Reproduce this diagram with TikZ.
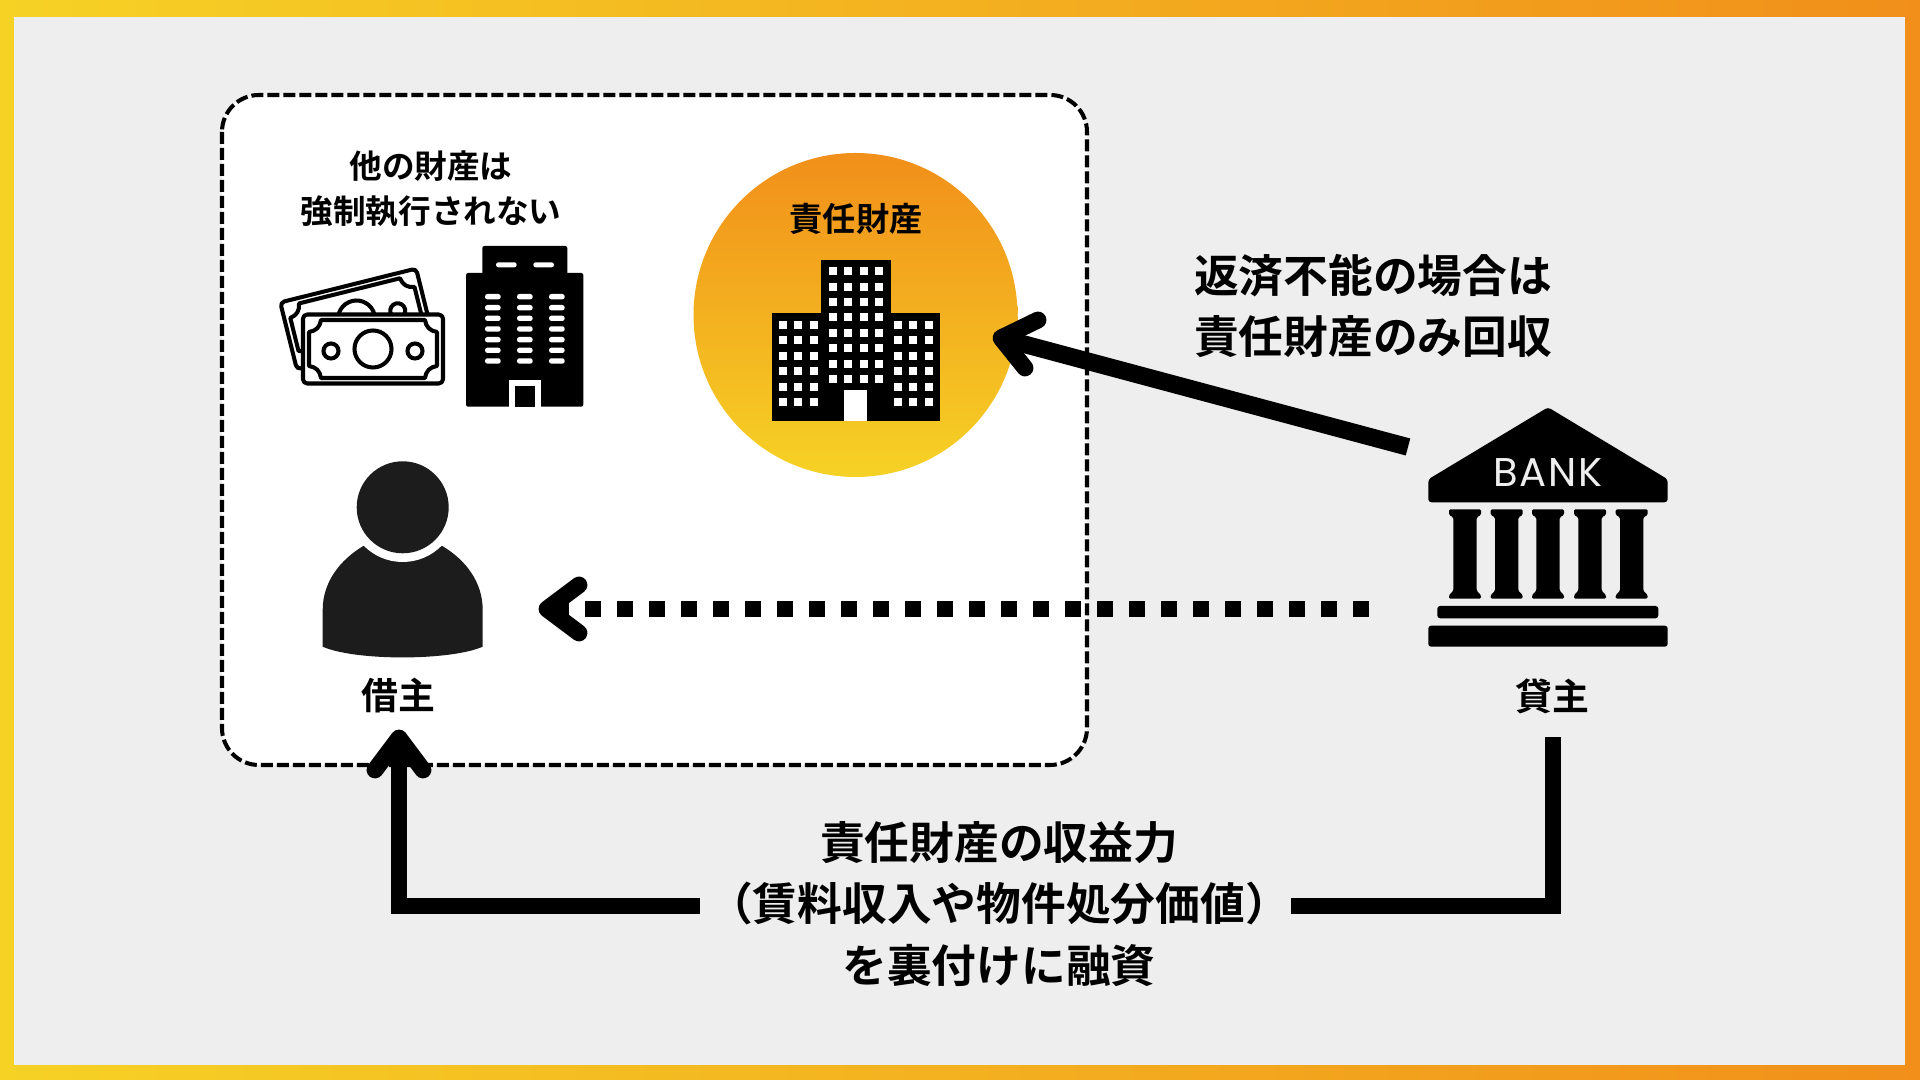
\documentclass[tikz,border=0pt]{standalone}
\usepackage{fontspec}
\usetikzlibrary{shadings,calc}
\setmainfont{Noto Sans CJK JP}[BoldFont={Noto Sans CJK JP Bold}]
\newfontfamily\bankfont{Poppins}[LetterSpace=5]
\definecolor{frameY}{HTML}{F6D225}
\definecolor{frameO}{HTML}{F18F1A}
\definecolor{paper}{HTML}{EEEEEE}
\definecolor{ink}{HTML}{000000}
\definecolor{person}{HTML}{1C1C1C}
\tikzset{
  x=0.01cm,y=-0.01cm,
  txtS/.style={font=\bfseries\fontsize{9.28}{12.8}\selectfont,text=ink,inner sep=0pt,align=center},
  txtT/.style={font=\bfseries\fontsize{9.45}{12.8}\selectfont,text=ink,inner sep=0pt,align=center},
  txtM/.style={font=\bfseries\fontsize{10.5}{12.8}\selectfont,text=ink,inner sep=0pt,align=center},
  txtL/.style={font=\bfseries\fontsize{12.72}{17.5}\selectfont,text=ink,inner sep=0pt,align=center},
  shaft/.style={draw=ink,line width=5pt,line join=miter},
  elbow/.style={draw=ink,line width=4.5pt,line join=miter},
  barb/.style={draw=ink,line width=4.8pt,line cap=round,line join=round},
  dotted line/.style={draw=ink,line width=4.3pt,dash pattern=on 4.55pt off 4.55pt},
  ticket/.style={draw=ink,line width=1.15pt,line join=round,fill=white},
  fine/.style={draw=ink,line width=1.15pt},
  solid black/.style={fill=ink,draw=none},
  pane/.style={fill=white,draw=none},
  bill/.pic={
    \path[ticket,rounded corners=1.2pt] (-70,-34.5) rectangle (70,34.5);
    \path[fine,line join=round] (-52,-29) -- (52,-29)
       .. controls (53,-22) and (57,-18) .. (64,-17) -- (64,17)
       .. controls (57,18) and (53,22) .. (52,29) -- (-52,29)
       .. controls (-53,22) and (-57,18) .. (-64,17) -- (-64,-17)
       .. controls (-57,-18) and (-53,-22) .. (-52,-29) -- cycle;
    \path[fine] (0,0) circle (18.5);
    \path[fine] (-42,2) circle (7.5);
    \path[fine] (42,2) circle (7.5);
  },
}
\begin{document}
\begin{tikzpicture}
\useasboundingbox (0,0) rectangle (1920,1080);
% frame
\path[left color=frameY,right color=frameO] (0,0) rectangle (1920,1080);
\path[fill=paper] (14,17) rectangle (1905,1065);
% dashed box
\path[fill=white,draw=ink,line width=1.15pt,dash pattern=on 3.4pt off 1.15pt,rounded corners=10.5pt] (222,95) rectangle (1087,765);

% asset circle
\path[top color=frameO,bottom color=frameY] (855.5,315) circle (162);
% office block in circle
\path[solid black] (772,313) rectangle (940,421);
\path[solid black] (821,260) rectangle (891,421);
\foreach \c in {0,...,3}\foreach \r in {0,...,7}
  \path[pane] ({829+15.4*\c},{267.3+15.4*\r}) rectangle +(8,8);
\foreach \c in {0,1,2}\foreach \r in {0,...,5}{
  \path[pane] ({779+15.4*\c},{321+15.4*\r}) rectangle +(8,8);
  \path[pane] ({894+15.4*\c},{321+15.4*\r}) rectangle +(8,8);
}
\path[pane] (844,390) rectangle (867.3,421);

% money
\pic[rotate=14] at (356.5,319) {bill};
\pic at (373,349) {bill};

% tower
\path[solid black,rounded corners=0.6pt] (482.3,246) rectangle (567.3,280);
\path[solid black,rounded corners=0.6pt] (466,273) rectangle (583.3,406.7);
\foreach \x in {496,533.3}
  \path[pane,rounded corners=0.7pt] (\x,262.3) rectangle +(20.7,5);
\foreach \x in {485,517,549}\foreach \y in {296.7,307.7,318.3,329,339.7,350.3,361}
  \path[pane,rounded corners=0.7pt] (\x,\y-2.7) rectangle +(15.7,5.4);
\path[pane] (509.3,380) rectangle (540.7,406.7);
\path[solid black] (515,386) rectangle (535.3,406.7);

% person
\path[fill=person] (322.7,646.7) -- (322.7,610)
  .. controls (322.7,582) and (340,560) .. (363.3,546)
  -- (442.3,546)
  .. controls (465.7,560) and (482.7,582) .. (482.7,610)
  -- (482.7,646.7)
  .. controls (450,661) and (355,661) .. (322.7,646.7) -- cycle;
\path[fill=white] (402.7,507.3) circle (54.7);
\path[fill=person] (402.7,507.3) circle (46);

% bank
\path[solid black,rounded corners=0.9pt] (1548,407.3) -- (1667.7,479.3) -- (1667.7,502.3) -- (1428.3,502.3) -- (1428.3,479.3) -- cycle;
\foreach \x in {1465,1506.7,1548,1590,1631.7}{
  \path[solid black,rounded corners=0.4pt] (\x-16,509.3) -- (\x+16,509.3) -- (\x+16,515) -- (\x+11.7,517.3) -- (\x+11.7,591) -- (\x+16,595) -- (\x+16,598.7) -- (\x-16,598.7) -- (\x-16,595) -- (\x-11.7,591) -- (\x-11.7,517.3) -- (\x-16,515) -- cycle;
}
\path[solid black,rounded corners=0.8pt] (1437.3,606) rectangle (1658.3,618.3);
\path[solid black,rounded corners=0.8pt] (1428.3,625.7) rectangle (1667.7,646.7);
\node[inner sep=0pt,text=paper,font=\bankfont\fontsize{11.4}{12}\selectfont] (banktext) at (1548,472.5) {BANK};

% labels
\node[txtS] (otherassets) at (431,189) {他の財産は\\強制執行されない};
\node[txtT] (assettitle) at (856,219) {責任財産};
\node[txtL] (recourse) at (1373,306) {返済不能の場合は\\責任財産のみ回収};
\node[txtM] (borrower) at (398,696) {借主};
\node[txtM] (lender) at (1552,696) {貸主};
\node[txtL] (backing) at (999,904) {責任財産の収益力\\（賃料収入や物件処分価値）\\を裏付けに融資};

% named connector ends
\coordinate (diagstart) at (1408,447);
\coordinate (diagtip) at (1001,338);
\coordinate (diagup) at (1038,320);
\coordinate (diaglow) at (1025,368);
\coordinate (dotstart) at (1369,609);
\coordinate (dotend) at (553,609);
\coordinate (dottip) at (547,609);
\coordinate (dotup) at (579,585);
\coordinate (dotlow) at (579,633);
\coordinate (lenderfoot) at (1553,737);
\coordinate (lowright) at (1553,906);
\coordinate (bkright) at (1291,906);
\coordinate (bkleft) at (700,906);
\coordinate (lowleft) at (399,906);
\coordinate (uptip) at (399,738);
\coordinate (upleft) at (375,770);
\coordinate (upright) at (423,770);

% connectors
\draw[shaft] (diagstart) -- (diagtip);
\draw[barb] (diagup) -- (diagtip) -- (diaglow);
\draw[dotted line] (dotstart) -- (dotend);
\draw[barb] (dotup) -- (dottip) -- (dotlow);
\draw[elbow] (lenderfoot) -- (lowright) -- (bkright);
\draw[elbow] (bkleft) -- (lowleft) -- (uptip);
\draw[barb] (upleft) -- (uptip) -- (upright);
\end{tikzpicture}
\end{document}
